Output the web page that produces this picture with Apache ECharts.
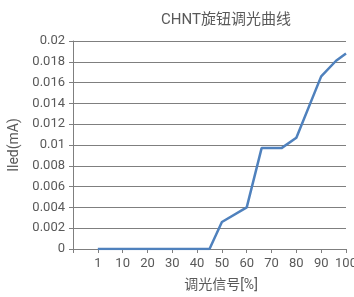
<!DOCTYPE html>
<html>
<head>
<meta charset="utf-8">
<script src="https://cdn.jsdelivr.net/npm/echarts@6/dist/echarts.min.js"></script>
<style>
  html, body { margin: 0; padding: 0; background: #fff; }
  #chart { width: 354px; height: 297px; }
</style>
</head>
<body>
<div id="chart"></div>
<script>
// tick labels on the x axis (evenly spaced, like the original)
const xLabels = ['1', '10', '20', '30', '40', '50', '60', '70', '80', '90', '100'];
// dimming signal (%) and LED current (mA)
const signal = [1, 10, 20, 30, 40, 45, 50, 60, 66, 74, 80, 90, 96, 100];
const current = [0, 0, 0, 0, 0, 0, 0.0026, 0.004, 0.0097, 0.0097, 0.0107, 0.0166, 0.0181, 0.0188];

// labels are spaced evenly, so map the percent onto label slots
function slot(p) {
  return p <= 10 ? (p - 1) / 9 : p / 10;
}

const grey = '#595959';
const font = 'Roboto, "Noto Sans CJK SC", sans-serif';

let chart = echarts.init(document.getElementById('chart'));
let option = {
  animation: false,
  title: {
    text: 'CHNT旋钮调光曲线',
    left: 156,
    top: 8,
    textStyle: { color: grey, fontSize: 15, fontWeight: 'normal', fontFamily: font }
  },
  grid: { left: 73, right: 8, top: 41, bottom: 48, outerBoundsMode: 'none', containLabel: false },
  xAxis: {
    type: 'value',
    min: -1,
    max: 10,
    interval: 1,
    name: '调光信号[%]',
    nameLocation: 'middle',
    nameGap: 30,
    nameTextStyle: { color: grey, fontSize: 14, fontFamily: font, padding: [0, 0, 0, 23] },
    axisLine: { lineStyle: { color: '#7f7f7f', width: 1 } },
    axisTick: { show: true, length: 4, lineStyle: { color: '#7f7f7f' } },
    axisLabel: {
      color: grey, fontSize: 13, fontFamily: font, margin: 8,
      formatter: v => (v >= 0 ? xLabels[v] : '')
    },
    splitLine: { show: false }
  },
  yAxis: {
    type: 'value',
    min: 0,
    max: 0.02,
    interval: 0.002,
    name: 'Iled(mA)',
    nameLocation: 'middle',
    nameGap: 41,
    nameTextStyle: { color: grey, fontSize: 14, fontFamily: font },
    axisLine: { show: true, onZero: false, lineStyle: { color: '#7f7f7f', width: 1 } },
    axisTick: { show: true, length: 4, lineStyle: { color: '#7f7f7f' } },
    axisLabel: { color: grey, fontSize: 13, fontFamily: font, margin: 8 },
    splitLine: { lineStyle: { color: '#7f7f7f', width: 1 } }
  },
  series: [
    {
      type: 'line',
      showSymbol: false,
      lineStyle: { color: '#4f81bd', width: 2.5 },
      data: signal.map((p, i) => [slot(p), current[i]])
    }
  ]
};
chart.setOption(option);
</script>
</body>
</html>
